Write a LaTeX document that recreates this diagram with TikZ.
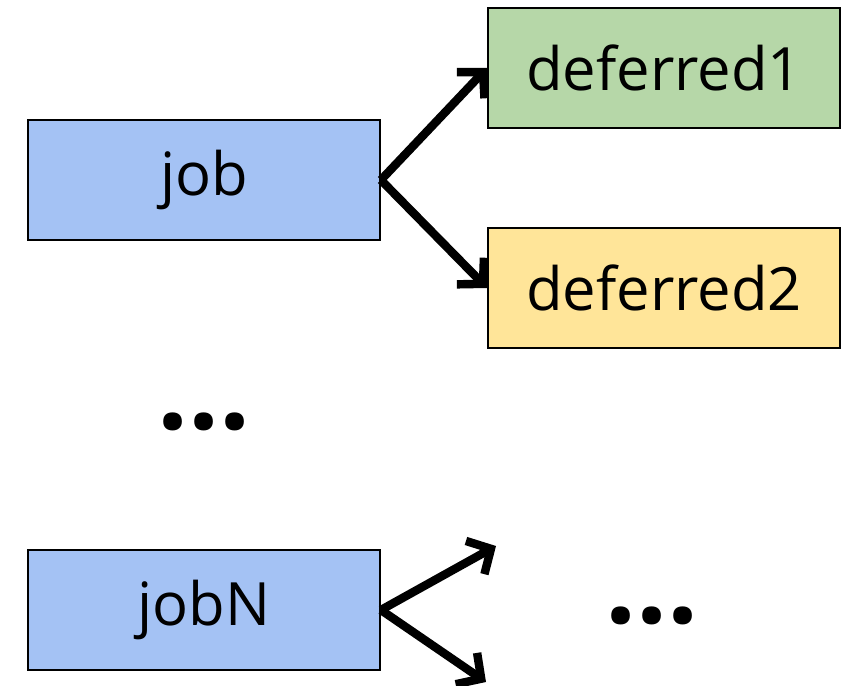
\documentclass[tikz,border=0pt]{standalone}
\usepackage{fontspec}
\setmainfont{Open Sans}
\usetikzlibrary{arrows.meta}

\begin{document}
\begin{tikzpicture}[x=0.02cm, y=-0.02cm,
        job/.style={draw, line width=1.1pt, minimum width=7.04cm, minimum height=2.4cm,
            inner sep=0pt, font=\fontsize{34}{40}\selectfont},
        dots/.style={anchor=base, font=\fontsize{62}{70}\selectfont\bfseries},
        link/.style={line width=4.8pt, -{Straight Barb[length=3.6mm, width=7.6mm, line width=4.8pt]}}]
        \useasboundingbox (0,0) rectangle (849,686);
        \node[job, fill={rgb,255:red,164;green,194;blue,244}](J)  at (204,180) {job};
        \node[job, fill={rgb,255:red,182;green,215;blue,168}](D1) at (664,68)  {deferred1};
        \node[job, fill={rgb,255:red,255;green,229;blue,153}](D2) at (664,288) {deferred2};
        \node[job, fill={rgb,255:red,164;green,194;blue,244}](JN) at (204,610) {jobN};
        \node[dots](M1) at (204,429) {...};
        \node[dots](M2) at (652,623) {...};
        \coordinate (U) at (496,546);
        \coordinate (L) at (486,682);
        \path
            (J.east)  edge [link] (D1.west)
                      edge [link] (D2.west)
            (JN.east) edge [link] (U)
                      edge [link] (L)
            ;
    \end{tikzpicture}
\end{document}
